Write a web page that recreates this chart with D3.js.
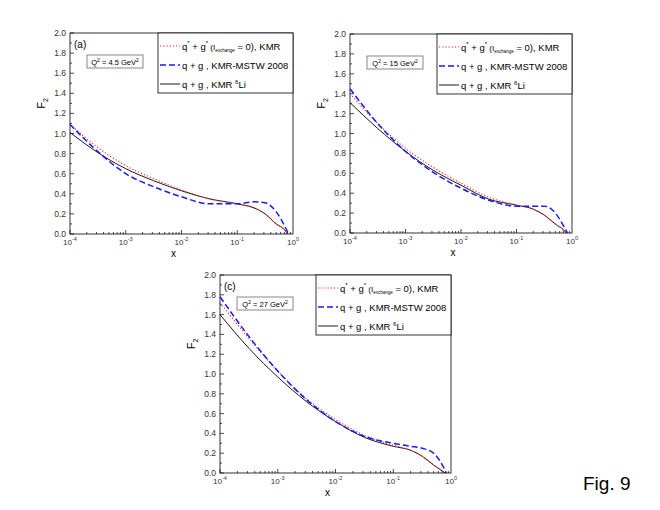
<!DOCTYPE html>
<html><head><meta charset="utf-8">
<script src="https://cdn.jsdelivr.net/npm/d3@7"></script>
<style>body{margin:0;background:#fff}text{font-family:Arial,"Liberation Sans",sans-serif}</style>
</head><body><div id="chart"></div>
<script>
// x given as log10(x)
const xsA = [-4, -3.5, -3, -2.5, -2, -1.5, -1, -0.7, -0.5, -0.3, -0.15, -0.1];
const xsBlue = [-4, -3.5, -3, -2.5, -2, -1.5, -1, -0.7, -0.5, -0.3, -0.15, -0.08];

const redA = [1.09, 0.86, 0.68, 0.55, 0.44, 0.35, 0.30, 0.26, 0.20, 0.10, 0.04, 0.0];
const blackA = [1.01, 0.81, 0.65, 0.53, 0.43, 0.35, 0.30, 0.26, 0.20, 0.10, 0.04, 0.0];
const blueA = [1.09, 0.82, 0.60, 0.47, 0.37, 0.30, 0.30, 0.32, 0.31, 0.22, 0.08, 0.0];

const redB = [1.40, 1.10, 0.85, 0.66, 0.50, 0.36, 0.28, 0.24, 0.18, 0.09, 0.03, 0.0];
const blackB = [1.31, 1.05, 0.82, 0.63, 0.48, 0.34, 0.28, 0.24, 0.18, 0.09, 0.03, 0.0];
const blueB = [1.45, 1.10, 0.82, 0.61, 0.45, 0.33, 0.27, 0.27, 0.27, 0.20, 0.07, 0.0];

const redC = [1.72, 1.36, 1.03, 0.75, 0.54, 0.38, 0.28, 0.23, 0.17, 0.08, 0.02, 0.0];
const blackC = [1.60, 1.26, 0.97, 0.72, 0.52, 0.36, 0.27, 0.23, 0.17, 0.08, 0.02, 0.0];
const blueC = [1.78, 1.38, 1.03, 0.74, 0.52, 0.37, 0.30, 0.27, 0.25, 0.20, 0.08, 0.0];

const yTicks = [0, 0.2, 0.4, 0.6, 0.8, 1.0, 1.2, 1.4, 1.6, 1.8, 2.0];
const xExps = [-4, -3, -2, -1, 0];

const panels = [
    {l: 70, r: 293, t: 33, b: 234, tag: "(a)", q: "4.5", red: redA, black: blackA, blue: blueA},
    {l: 350, r: 572, t: 34, b: 233, tag: "", q: "15", red: redB, black: blackB, blue: blueB},
    {l: 220, r: 451, t: 275, b: 473, tag: "(c)", q: "27", red: redC, black: blackC, blue: blueC},
];

const svg = d3.select("#chart").append("svg").attr("width", 660).attr("height", 510);

panels.forEach(p => {
    const g = svg.append("g");
    const x = d3.scaleLog().domain([1e-4, 1]).range([p.l, p.r]);
    const y = d3.scaleLinear().domain([0, 2]).range([p.b, p.t]);

    g.append("rect").attr("x", p.l).attr("y", p.t).attr("width", p.r - p.l).attr("height", p.b - p.t)
        .attr("fill", "none").attr("stroke", "#000").attr("stroke-width", 0.8);

    // y ticks
    const yMinor = d3.range(0, 2.001, 0.1);
    yMinor.forEach((v, i) => {
        g.append("line").attr("x1", p.l).attr("x2", p.l + (i % 2 ? 2 : 4))
            .attr("y1", y(v)).attr("y2", y(v)).attr("stroke", "#000").attr("stroke-width", 0.7);
    });
    yTicks.forEach(v => {
        g.append("text").attr("x", p.l - 4).attr("y", y(v) + 3).attr("text-anchor", "end")
            .attr("font-size", 8.5).attr("fill", "#333").text(v.toFixed(1));
    });
    // x ticks
    for (let e = -4; e < 0; e++) {
        for (let m = 1; m < 10; m++) {
            const xv = x(m * Math.pow(10, e));
            g.append("line").attr("x1", xv).attr("x2", xv).attr("y1", p.b).attr("y2", p.b - (m === 1 ? 4 : 2))
                .attr("stroke", "#000").attr("stroke-width", 0.7);
        }
    }
    xExps.forEach(e => {
        const t = g.append("text").attr("x", x(Math.pow(10, e))).attr("y", p.b + 11)
            .attr("text-anchor", "middle").attr("font-size", 8).attr("fill", "#333");
        t.append("tspan").text("10");
        t.append("tspan").attr("dy", -4).attr("font-size", 5.5).text(e);
    });
    g.append("text").attr("x", (p.l + p.r) / 2 - 8).attr("y", p.b + 23).attr("text-anchor", "middle")
        .attr("font-size", 10).text("x");
    const yl = g.append("text").attr("transform", `translate(${p.l - 25},${(p.t + p.b) / 2 - 30}) rotate(-90)`)
        .attr("text-anchor", "middle").attr("font-size", 11).attr("font-family", "Liberation Serif,serif");
    yl.append("tspan").text("F");
    yl.append("tspan").attr("dy", 3).attr("font-size", 7).text("2");

    // curves
    const line = d3.line().x(d => x(Math.pow(10, d[0]))).y(d => y(d[1])).curve(d3.curveMonotoneX);
    const series = [
        {xs: xsA, ys: p.black, color: "#000", dash: null, w: 0.9},
        {xs: xsA, ys: p.red, color: "#ff2020", dash: "1.2,2", w: 1.1},
        {xs: xsBlue, ys: p.blue, color: "#1a1aff", dash: "6,3", w: 1.5},
    ];
    series.forEach(s => {
        g.append("path").datum(d3.zip(s.xs, s.ys)).attr("d", line).attr("fill", "none")
            .attr("stroke", s.color).attr("stroke-width", s.w).attr("stroke-dasharray", s.dash);
    });

    // tag
    if (p.tag) g.append("text").attr("x", p.l + 4).attr("y", p.t + 15).attr("font-size", 10).text(p.tag);

    // Q2 box
    const qx = p.l + 17, qy = p.t + 22;
    g.append("rect").attr("x", qx).attr("y", qy).attr("width", 56).attr("height", 13)
        .attr("fill", "#fff").attr("stroke", "#555").attr("stroke-width", 0.7);
    const qt = g.append("text").attr("x", qx + 28).attr("y", qy + 9.5).attr("text-anchor", "middle").attr("font-size", 7.5);
    qt.append("tspan").text("Q");
    qt.append("tspan").attr("dy", -3).attr("font-size", 5).text("2");
    qt.append("tspan").attr("dy", 3).text(` = ${p.q} GeV`);
    qt.append("tspan").attr("dy", -3).attr("font-size", 5).text("2");

    // legend
    const lx = p.r - 135, ly = p.t;
    g.append("rect").attr("x", lx).attr("y", ly).attr("width", 135).attr("height", 60)
        .attr("fill", "#fff").attr("stroke", "#000").attr("stroke-width", 0.8);
    const rows = [series[1], series[2], series[0]];
    rows.forEach((s, i) => {
        const yy = ly + 13 + i * 19;
        g.append("line").attr("x1", lx + 2).attr("x2", lx + 22).attr("y1", yy).attr("y2", yy)
            .attr("stroke", s.color).attr("stroke-width", s.w).attr("stroke-dasharray", s.dash);
        const t = g.append("text").attr("x", lx + 24).attr("y", yy + 4).attr("font-size", 9.5);
        if (i === 0) {
            t.append("tspan").text("q");
            t.append("tspan").attr("dy", -5).attr("font-size", 6).text("*");
            t.append("tspan").attr("dy", 5).text(" + g");
            t.append("tspan").attr("dy", -5).attr("font-size", 6).text("*");
            t.append("tspan").attr("dy", 5).attr("font-size", 8).text(" (I");
            t.append("tspan").attr("dy", 2).attr("font-size", 4.5).text("exchange");
            t.append("tspan").attr("dy", -2).text(" = 0), KMR");
        } else if (i === 1) {
            t.text("q + g , KMR-MSTW 2008");
        } else {
            t.append("tspan").text("q + g , KMR ");
            t.append("tspan").attr("dy", -4).attr("font-size", 6).text("6");
            t.append("tspan").attr("dy", 4).text("Li");
        }
    });
});

svg.append("text").attr("x", 583).attr("y", 490).attr("font-size", 19).text("Fig. 9");
</script>
</body></html>
